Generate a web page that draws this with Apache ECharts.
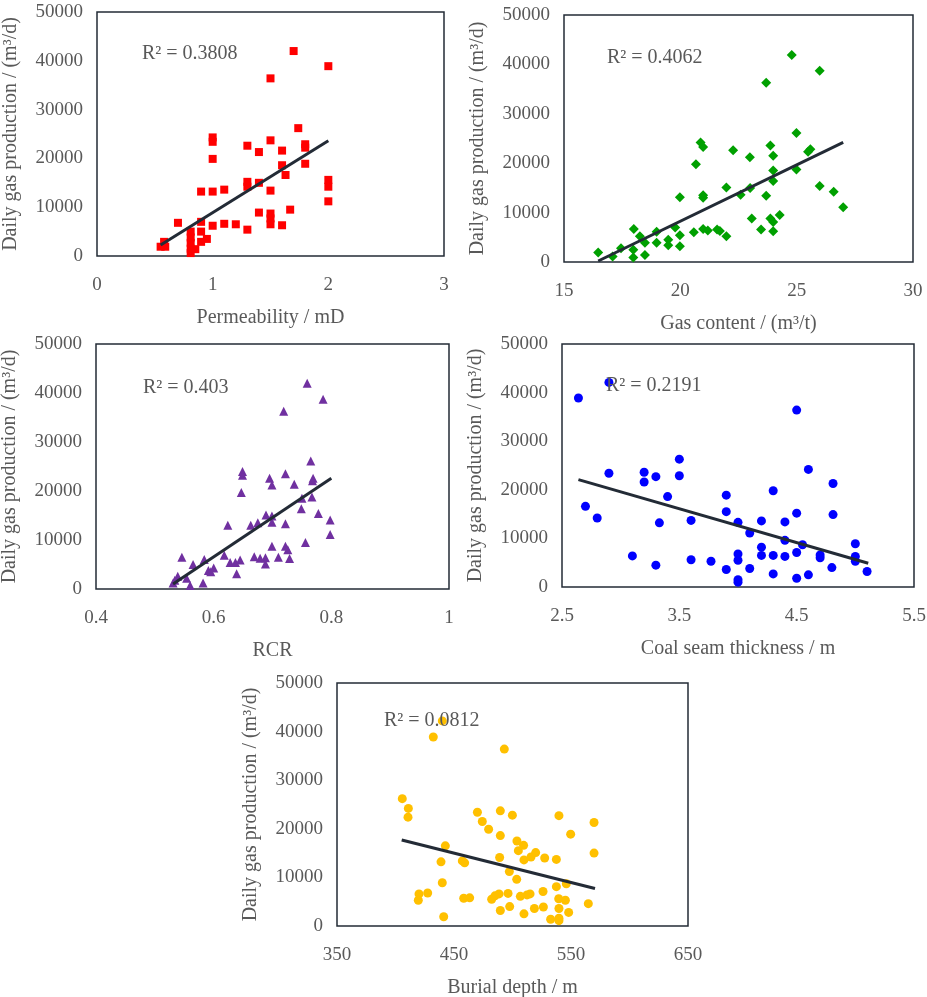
<!DOCTYPE html>
<html>
<head>
<meta charset="utf-8">
<script src="https://cdn.jsdelivr.net/npm/echarts@6/dist/echarts.min.js"></script>
<style>
  html, body { margin: 0; padding: 0; background: #fff; }
  #chart { width: 927px; height: 997px; }
</style>
</head>
<body>
<div id="chart"></div>
<script>
// panel 1: permeability
var permX = [1.70, 2.00, 1.50, 1.74, 1.00, 1.00, 1.50, 1.30, 1.80, 1.80, 1.40, 1.60, 1.00, 1.80, 1.60, 1.63, 1.30, 1.30, 1.40, 2.00,
             2.00, 0.90, 1.00, 1.10, 1.50, 2.00, 1.67, 1.40, 1.50, 1.50, 1.50, 0.70, 0.90, 0.90, 0.90, 0.95, 1.00, 1.10, 1.20, 1.60,
             1.30, 0.81, 0.81, 0.81, 0.81, 0.81, 0.58, 0.59, 0.55, 0.85];
var permY = [42000, 38900, 36400, 26200, 24300, 23400, 23700, 22600, 22900, 22200, 21300, 21600, 19900, 18900, 18600, 16600, 15200, 14200, 15000, 15600,
             14200, 13200, 13200, 13600, 13400, 11200, 9500, 8900, 8700, 7700, 6500, 6800, 7000, 5000, 2900, 3500, 6200, 6600, 6500, 6300,
             5400, 5000, 3800, 2700, 1500, 600, 2900, 1900, 1900, 1400];
var permTrendX = [0.55, 2.0];
var permTrendY = [2250, 23600];

// panel 2: gas content
var gasX = [24.79, 25.99, 23.69, 24.99, 20.87, 20.98, 23.87, 22.27, 25.49, 25.59, 23.99, 22.99, 20.67, 24.99, 23.99, 23.99, 21.98, 23.00, 25.99, 26.59,
            22.59, 20.98, 20.98, 19.98, 23.69, 27.00, 23.07, 23.87, 23.99, 24.27, 23.47, 23.99, 18.00, 19.78, 20.98, 21.18, 21.58, 21.70, 21.98, 20.58,
            18.98, 19.98, 18.26, 18.48, 18.98, 19.48, 19.48, 19.98, 17.45, 17.98, 17.98, 18.48, 17.09, 16.47];
var gasY = [41900, 38700, 36300, 26100, 24200, 23300, 23600, 22600, 22300, 22800, 21500, 21200, 19800, 18700, 18500, 16400, 15100, 15000, 15400, 14200,
            13600, 13500, 13000, 13100, 13400, 11100, 8800, 8800, 8100, 9500, 6600, 6200, 6700, 7000, 6700, 6400, 6600, 6300, 5200, 6000,
            6100, 5400, 5200, 3900, 3900, 4500, 3400, 3200, 2800, 2500, 900, 1400, 1100, 1900];
var gasTrendX = [16.47, 27.0];
var gasTrendY = [200, 24200];

// panel 3: RCR
var rcrX = [0.759, 0.786, 0.719, 0.765, 0.649, 0.649, 0.722, 0.695, 0.699, 0.769, 0.768, 0.737, 0.647, 0.750, 0.767, 0.749, 0.778, 0.798, 0.689, 0.699,
            0.699, 0.722, 0.675, 0.663, 0.624, 0.798, 0.756, 0.699, 0.722, 0.726, 0.669, 0.679, 0.688, 0.688, 0.710, 0.729, 0.618, 0.628, 0.637, 0.645,
            0.639, 0.546, 0.565, 0.584, 0.591, 0.595, 0.600, 0.582, 0.560, 0.539, 0.534, 0.531, 0.554];
var rcrY = [42000, 38700, 36300, 26100, 24000, 23200, 23500, 22600, 21200, 22600, 22100, 21400, 19700, 18500, 18800, 16400, 15400, 14100, 15100, 14900,
            13600, 13300, 13500, 13000, 13000, 11100, 9500, 8700, 8700, 8000, 6600, 6300, 6400, 5100, 6500, 6200, 6900, 5400, 5400, 5900,
            3100, 6500, 5000, 6000, 3800, 3500, 4300, 1200, 700, 2600, 1800, 1200, 2200];
var rcrTrendX = [0.531, 0.800];
var rcrTrendY = [1000, 22600];

// panel 4: coal seam thickness
var thickX = [2.64, 2.90, 4.50, 3.50, 2.90, 3.20, 3.20, 3.30, 3.50, 4.60, 4.81, 3.40, 3.90, 4.30, 2.70, 2.80, 3.33, 3.60, 3.90, 4.00,
              4.20, 4.40, 4.50, 4.81, 4.10, 4.40, 4.55, 5.00, 4.20, 4.20, 4.30, 4.40, 4.50, 4.70, 4.70, 5.00, 5.00, 3.10, 3.30, 3.60,
              3.77, 4.00, 4.00, 3.90, 4.10, 4.30, 4.50, 4.60, 4.80, 5.10, 4.00, 4.00];
var thickY = [38900, 42100, 36400, 26300, 23400, 23600, 21600, 22700, 22900, 24200, 21300, 18600, 18900, 19800, 16600, 14200, 13200, 13700, 15500, 13300,
              13600, 13400, 15200, 14900, 11100, 9600, 8700, 8900, 8200, 6500, 6500, 6300, 7100, 6600, 6000, 6300, 5300, 6400, 4500, 5600,
              5300, 6800, 5500, 3600, 3800, 2700, 1800, 2500, 4000, 3200, 1500, 1000];
var thickTrendX = [2.64, 5.11];
var thickTrendY = [22100, 4900];

// panel 5: burial depth
var depthX = [440.0, 432.3, 493.0, 405.8, 411.0, 410.7, 470.0, 489.6, 499.9, 539.7, 569.7, 474.2, 479.6, 489.6, 549.7, 503.8, 509.5, 442.6, 505.0, 515.8,
              519.8, 509.8, 489.0, 527.5, 537.5, 569.7, 438.9, 457.1, 459.1, 497.3, 503.6, 440.0, 537.5, 546.0, 420.1, 419.5, 427.5, 458.3, 463.4, 482.2,
              485.0, 488.5, 496.2, 506.7, 512.4, 515.0, 526.1, 539.5, 545.2, 564.8, 489.6, 497.6, 518.7, 526.4, 509.8, 539.7, 548.0, 532.6, 539.7, 539.7,
              441.2];
var depthY = [42200, 38900, 36400, 26200, 24200, 22400, 23400, 23700, 22800, 22700, 21300, 21500, 19900, 18600, 18900, 17500, 16600, 16500, 15500, 14200,
              15100, 13600, 14100, 14000, 13700, 15000, 13200, 13400, 13000, 11200, 9600, 8900, 8100, 8700, 6600, 5300, 6800, 5700, 5800, 5500,
              6200, 6600, 6700, 6100, 6400, 6600, 7100, 5600, 5300, 4600, 3200, 4000, 3600, 3900, 2500, 3600, 2800, 1400, 1600, 1100,
              1900];
var depthTrendX = [405.3, 570.5];
var depthTrendY = [17700, 7700];

var yTicks = [0, 10000, 20000, 30000, 40000, 50000];

var FONT = 'Liberation Serif';
var TXT = '#595959';
var LINE = '#232b36';

function pairs(xs, ys) {
    return xs.map(function (x, i) { return [x, ys[i]]; });
}

var grids = [
    { left: 97, top: 12, width: 347, height: 244 },
    { left: 564, top: 15, width: 349, height: 247 },
    { left: 96, top: 344, width: 353, height: 245 },
    { left: 562, top: 344, width: 352, height: 243 },
    { left: 337, top: 683, width: 351, height: 243 }
];

var xSpecs = [
    { name: 'Permeability / mD', min: 0, max: 3, interval: 1 },
    { name: 'Gas content / (m\u00b3/t)', min: 15, max: 30, interval: 5 },
    { name: 'RCR', min: 0.4, max: 1, interval: 0.2 },
    { name: 'Coal seam thickness / m', min: 2.5, max: 5.5, interval: 1 },
    { name: 'Burial depth / m', min: 350, max: 650, interval: 100 }
];

var panels = [
    { x: permX, y: permY, tx: permTrendX, ty: permTrendY, symbol: 'rect', size: 8, color: '#ff0000', r2: 'R\u00b2 = 0.3808', lx: 142, ly: 44 },
    { x: gasX, y: gasY, tx: gasTrendX, ty: gasTrendY, symbol: 'diamond', size: 10, color: '#00a000', r2: 'R\u00b2 = 0.4062', lx: 607, ly: 48 },
    { x: rcrX, y: rcrY, tx: rcrTrendX, ty: rcrTrendY, symbol: 'triangle', size: 9, color: '#7030a0', r2: 'R\u00b2 = 0.403', lx: 143, ly: 378 },
    { x: thickX, y: thickY, tx: thickTrendX, ty: thickTrendY, symbol: 'circle', size: 9, color: '#0000ff', r2: 'R\u00b2 = 0.2191', lx: 606, ly: 376 },
    { x: depthX, y: depthY, tx: depthTrendX, ty: depthTrendY, symbol: 'circle', size: 9, color: '#ffc000', r2: 'R\u00b2 = 0.0812', lx: 384, ly: 711 }
];

var option = {
    backgroundColor: '#ffffff',
    animation: false,
    grid: grids.map(function (g) {
        return {
            left: g.left, top: g.top, width: g.width, height: g.height,
            show: true, borderColor: LINE, borderWidth: 1.5,
            containLabel: false, outerBoundsMode: 'none'
        };
    }),
    xAxis: xSpecs.map(function (s, i) {
        return {
            type: 'value', gridIndex: i,
            min: s.min, max: s.max, interval: s.interval,
            name: s.name, nameLocation: 'middle', nameGap: 52,
            nameTextStyle: { fontFamily: FONT, fontSize: 20, color: TXT },
            axisLine: { show: false }, axisTick: { show: false }, splitLine: { show: false },
            axisLabel: { fontFamily: FONT, fontSize: 19, color: TXT, margin: 20, showMinLabel: true, showMaxLabel: true,
                         formatter: function (v) { return String(v); } }
        };
    }),
    yAxis: grids.map(function (g, i) {
        return {
            type: 'value', gridIndex: i,
            min: yTicks[0], max: yTicks[yTicks.length - 1], interval: 10000,
            name: 'Daily gas production / (m\u00b3/d)', nameLocation: 'middle', nameGap: 76,
            nameTextStyle: { fontFamily: FONT, fontSize: 20, color: TXT },
            axisLine: { show: false }, axisTick: { show: false }, splitLine: { show: false },
            axisLabel: { fontFamily: FONT, fontSize: 19, color: TXT, margin: 14,
                         formatter: function (v) { return String(v); } }
        };
    }),
    graphic: panels.map(function (p) {
        return {
            type: 'text', left: p.lx, top: p.ly, z: 10,
            style: { text: p.r2, fontFamily: FONT, fontSize: 20, fill: TXT }
        };
    }),
    series: []
};

panels.forEach(function (p, i) {
    option.series.push({
        type: 'scatter', xAxisIndex: i, yAxisIndex: i,
        symbol: p.symbol, symbolSize: p.size,
        itemStyle: { color: p.color, opacity: 1 },
        data: pairs(p.x, p.y), z: 2
    });
    option.series.push({
        type: 'line', xAxisIndex: i, yAxisIndex: i,
        symbol: 'none', silent: true,
        lineStyle: { color: LINE, width: 3 },
        data: pairs(p.tx, p.ty), z: 3
    });
});

var myChart = echarts.init(document.getElementById('chart'));
myChart.setOption(option);
</script>
</body>
</html>
